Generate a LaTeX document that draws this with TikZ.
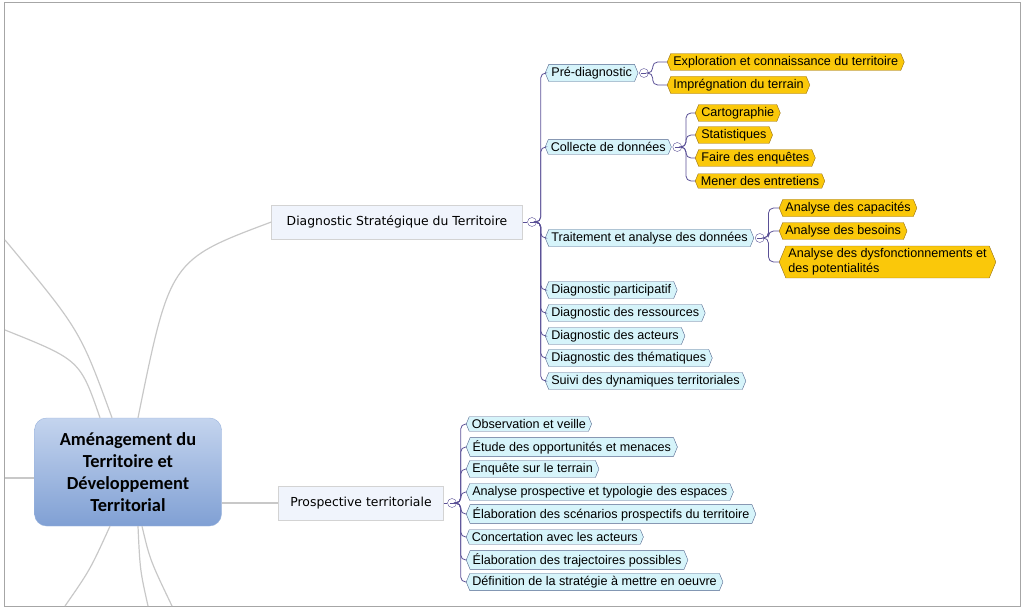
\documentclass[tikz,border=0pt]{standalone}
\usepackage{fontspec}
\setmainfont{Liberation Sans}
\newfontfamily\rootfont{Carlito}
\newfontfamily\topicfont{DejaVu Sans}
\usetikzlibrary{shapes.symbols}
\usetikzlibrary{positioning}
\definecolor{leafblue}{RGB}{214, 244, 250}
\definecolor{leafedge}{RGB}{80, 100, 140}
\definecolor{goldleaf}{RGB}{250, 200, 10}
\definecolor{goldedge}{RGB}{150, 110, 20}
\definecolor{rootlight}{RGB}{196, 212, 238}
\definecolor{rootdark}{RGB}{128, 160, 212}
\definecolor{topicfill}{RGB}{240, 244, 252}
\definecolor{branch}{RGB}{200, 200, 200}
\definecolor{spine}{RGB}{90, 80, 150}
\tikzset{
  leaf/.style={signal, signal to=west and east, signal pointer angle=135, draw=leafedge,
               fill=leafblue, inner sep=2.6pt, anchor=west, font=\fontsize{12.6}{14}\selectfont},
  gold/.style={leaf, draw=goldedge, fill=goldleaf},
  topic/.style={draw=branch!80, fill=topicfill, inner sep=6pt, minimum height=34,
                font=\topicfont\fontsize{12.4}{14}\selectfont},
  fold/.style={circle, draw=spine, fill=white, inner sep=0pt, minimum size=9,
               path picture={\draw[spine] ([xshift=-2.5]path picture bounding box.center) -- ([xshift=2.5]path picture bounding box.center);}},
  link/.style={draw=spine, line width=0.8pt, rounded corners=5},
  limb/.style={draw=branch, line width=1.2pt}
}
\begin{document}
\begin{tikzpicture}[x=1pt, y=-1pt]
  \useasboundingbox (0,0) rectangle (1024,609);
  \draw[gray!70, line width=1pt] (4,3) rectangle (1020,606);
  % Root
  \node[rounded corners=12, minimum width=187, minimum height=108, align=center,
        top color=rootlight, bottom color=rootdark, draw=rootdark!80,
        font=\rootfont\bfseries\fontsize{18.4}{22}\selectfont] (root) at (128,472)
        {Aménagement du\\Territoire et\\Développement\\Territorial};
  % Off-frame branches
  \coordinate (out1) at (5,240);
  \coordinate (out2) at (5,330);
  \coordinate (out3) at (5,478);
  \coordinate (out4) at (65,606);
  \coordinate (out5) at (148,606);
  \coordinate (out6) at (172,606);
  \draw[limb] ([xshift=-16]root.north) .. controls (80,330) .. (out1);
  \draw[limb] ([xshift=-28]root.north) .. controls (80,360) .. (out2);
  \draw[limb] (root.west |- out3) -- (out3);
  \draw[limb] ([xshift=-18]root.south) .. controls (90,570) .. (out4);
  \draw[limb] ([xshift=10]root.south) .. controls (140,570) .. (out5);
  \draw[limb] ([xshift=14]root.south) .. controls (150,560) .. (out6);
  % Topics
  \node[topic, minimum width=251] (diag) at (397,222) {Diagnostic Stratégique du Territoire};
  \node[topic, minimum width=165] (prosp) at (361,503) {Prospective territoriale};
  \draw[limb] ([xshift=10]root.north) .. controls (170,260) .. (diag.west);
  \draw[limb] (root.east |- prosp) -- (prosp.west);
  \node[fold] (fdiag) at (532,222) {};
  \node[fold] (fprosp) at (452,503) {};
  % Diagnostic branch
  \node[leaf] (pre) at (545,73) {Pré-diagnostic\hspace{8pt}};
  \node[leaf] (coll) at (545,147) {Collecte de données};
  \node[leaf] (trait) at (545,238) {Traitement et analyse des données};
  \node[leaf] (part) at (545,290) {Diagnostic participatif};
  \node[leaf] (ress) at (545,313) {Diagnostic des ressources};
  \node[leaf] (act) at (545,336) {Diagnostic des acteurs};
  \node[leaf] (them) at (545,358) {Diagnostic des thématiques};
  \node[leaf] (suivi) at (545,381) {Suivi des dynamiques territoriales};
  \foreach \n in {pre, coll, trait, part, ress, act, them, suivi}
    \draw[link] (fdiag.east) -- ++(4,0) |- (\n.west);
  \node[fold, right=1pt of pre] (fpre) {};
  \node[fold, right=1pt of coll] (fcoll) {};
  \node[fold, right=1pt of trait] (ftrait) {};
  % Pre-diagnostic leaves
  \node[gold] (explo) at (667,62) {Exploration et connaissance du territoire};
  \node[gold] (impr) at (667,85) {Imprégnation du terrain};
  \foreach \n in {explo, impr}
    \draw[link] (fpre.east) -- ++(4,0) |- (\n.west);
  % Collecte leaves
  \node[gold] (carto) at (695,113) {Cartographie};
  \node[gold] (stat) at (695,135) {Statistiques};
  \node[gold] (enq) at (695,158) {Faire des enquêtes};
  \node[gold] (entr) at (695,181) {Mener des entretiens};
  \foreach \n in {carto, stat, enq, entr}
    \draw[link] (fcoll.east) -- ++(4,0) |- (\n.west);
  % Traitement leaves
  \node[gold] (capa) at (779,208) {Analyse des capacités};
  \node[gold] (bes) at (779,231) {Analyse des besoins};
  \node[gold, align=left, font=\fontsize{12.6}{15}\selectfont] (dysf) at (779,262)
        {Analyse des dysfonctionnements et\\des potentialités};
  \foreach \n in {capa, bes, dysf}
    \draw[link] (ftrait.east) -- ++(4,0) |- (\n.west);
  % Prospective branch
  \node[leaf] (obs) at (466,424) {Observation et veille};
  \node[leaf] (opp) at (466,447) {Étude des opportunités et menaces};
  \node[leaf] (terr) at (466,469) {Enquête sur le terrain};
  \node[leaf] (typo) at (466,492) {Analyse prospective et typologie des espaces};
  \node[leaf] (scen) at (466,514) {Élaboration des scénarios prospectifs du territoire};
  \node[leaf] (conc) at (466,537) {Concertation avec les acteurs};
  \node[leaf] (traj) at (466,560) {Élaboration des trajectoires possibles};
  \node[leaf] (strat) at (466,582) {Définition de la stratégie à mettre en oeuvre};
  \foreach \n in {obs, opp, terr, typo, scen, conc, traj, strat}
    \draw[link] (fprosp.east) -- ++(4,0) |- (\n.west);
  \draw[spine] (diag.east) -- (fdiag.west);
  \draw[spine] (prosp.east) -- (fprosp.west);
\end{tikzpicture}
\end{document}
